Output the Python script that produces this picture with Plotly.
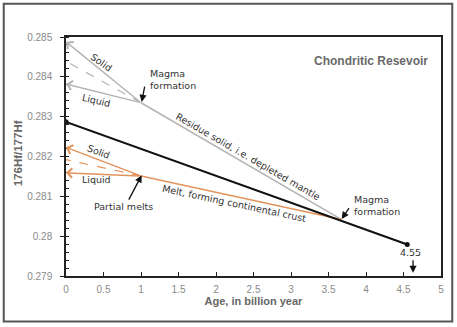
import plotly.graph_objects as go

# ---- data ----
age_chur = [0.0, 4.55]
hf_chur = [0.28287, 0.27979]

age_split = [3.67, 1.0]          # magma formation -> partial melting
hf_residue = [0.28042, 0.28335]  # residue solid (depleted mantle)
hf_melt = [0.28042, 0.28151]     # melt (continental crust)

age_now = 0.0
res_solid, res_mix, res_liquid = 0.28488, 0.28439, 0.28382
melt_solid, melt_mix, melt_liquid = 0.28223, 0.28192, 0.28159

x_ticks = [0, 0.5, 1, 1.5, 2, 2.5, 3, 3.5, 4, 4.5, 5]
x_labels = ["0", "0.5", "1", "1.5", "2", "2.5", "3", "3.5", "4", "4.5", "5"]
y_ticks = [0.279, 0.280, 0.281, 0.282, 0.283, 0.284, 0.285]
y_labels = ["0.279", "0.28", "0.281", "0.282", "0.283", "0.284", "0.285"]

GRAY = "#b4b4b4"
ORANGE = "#e3935c"
TXT = "#333333"
ANN_FONT = dict(family="DejaVu Sans", size=9.5, color=TXT)

fig = go.Figure()

# residue (gray)
fig.add_trace(go.Scatter(x=age_split, y=hf_residue, mode="lines",
                         line=dict(color=GRAY, width=1.5), hoverinfo="skip"))
fig.add_trace(go.Scatter(x=[age_split[1], age_now], y=[hf_residue[1], res_mix], mode="lines",
                         line=dict(color=GRAY, width=1.2, dash="dash"), hoverinfo="skip"))
# melt (orange)
fig.add_trace(go.Scatter(x=age_split, y=hf_melt, mode="lines",
                         line=dict(color=ORANGE, width=1.5), hoverinfo="skip"))
fig.add_trace(go.Scatter(x=[age_split[1], age_now], y=[hf_melt[1], melt_mix], mode="lines",
                         line=dict(color=ORANGE, width=1.2, dash="dash"), hoverinfo="skip"))
# CHUR (black)
fig.add_trace(go.Scatter(x=age_chur, y=hf_chur, mode="lines+markers",
                         line=dict(color="#111111", width=2),
                         marker=dict(color="#111111", size=5), hoverinfo="skip"))

ann = []
# branch arrows pointing to present day
for y_end, y_start, col in [(res_solid, hf_residue[1], GRAY), (res_liquid, hf_residue[1], GRAY),
                            (melt_solid, hf_melt[1], ORANGE), (melt_liquid, hf_melt[1], ORANGE)]:
    ann.append(dict(x=age_now, y=y_end, ax=age_split[1], ay=y_start, xref="x", yref="y",
                    axref="x", ayref="y", text="", showarrow=True, arrowhead=4,
                    arrowsize=1.3, arrowwidth=1.4, arrowcolor=col, standoff=0))

# black pointer arrows (tip, tail)
for (tx, ty, sx, sy) in [(1.009, 0.28337, 1.053, 0.28379),
                         (1.009, 0.28153, 0.827, 0.28088),
                         (3.676, 0.28043, 3.787, 0.28074),
                         (4.627, 0.27908, 4.627, 0.27943)]:
    ann.append(dict(x=tx, y=ty, ax=sx, ay=sy, xref="x", yref="y", axref="x", ayref="y",
                    text="", showarrow=True, arrowhead=2, arrowsize=1.1, arrowwidth=1.3,
                    arrowcolor="#111111", standoff=0))

def lab(text, x, y, angle=0, xanchor="center", font=ANN_FONT, align="center"):
    ann.append(dict(x=x, y=y, xref="x", yref="y", text=text, showarrow=False,
                    textangle=angle, xanchor=xanchor, yanchor="middle", font=font, align=align))

lab("Solid", 0.476, 0.28437, 35)
lab("Liquid", 0.409, 0.28341, 13)
lab("Magma<br>formation", 1.093, 0.28394, 0, "left", align="left")
lab("Residue solid, i.e. depleted mantle", 2.427, 0.28201, 30)
lab("Solid", 0.431, 0.28212, 21)
lab("Liquid", 0.409, 0.28143, 0)
lab("Partial melts", 0.764, 0.28074, 0)
lab("Melt, forming continental crust", 2.253, 0.28083, 12)
lab("Magma<br>formation", 3.809, 0.28078, 0, "left", align="left")
lab("4.55", 4.596, 0.27960, 0)
lab("Chondritic Resevoir", 4.067, 0.28439, 0,
    font=dict(family="Liberation Sans", size=12, color="#6a6a6a", weight="bold"))

# y-axis title
ann.append(dict(x=-0.127, y=0.515, xref="paper", yref="paper", text="176Hf/177Hf",
                showarrow=False, textangle=-90, xanchor="center", yanchor="middle",
                font=dict(family="Liberation Sans", size=11.5, color="#666666", weight="bold")))

fig.update_layout(
    width=457, height=327,
    margin=dict(l=66, r=16, t=37, b=51),
    paper_bgcolor="white", plot_bgcolor="white",
    showlegend=False,
    annotations=ann,
    shapes=[dict(type="rect", xref="paper", yref="paper",
                 x0=-0.166, x1=1.030, y0=-0.190, y1=1.139,
                 line=dict(color="#555555", width=2), layer="above")],
    xaxis=dict(range=[0, 5], tickvals=x_ticks, ticktext=x_labels,
               ticks="inside", ticklen=4, tickcolor="#222",
               showline=True, linecolor="#222", linewidth=1.5, mirror=True,
               showgrid=False, zeroline=False, ticklabelstandoff=3,
               tickfont=dict(family="Liberation Sans", size=10, color="#8a8a8a"),
               title=dict(text="Age, in billion year", standoff=4,
                          font=dict(family="Liberation Sans", size=11, color="#666666",
                                    weight="bold"))),
    yaxis=dict(range=[0.279, 0.285], tickvals=y_ticks, ticktext=y_labels,
               ticks="outside", ticklen=4, tickcolor="#222",
               minor=dict(dtick=0.0002, ticks="inside", ticklen=3, tickcolor="#222"),
               showline=True, linecolor="#222", linewidth=1.5, mirror=True,
               showgrid=False, zeroline=False, ticklabelstandoff=6,
               tickfont=dict(family="Liberation Sans", size=10, color="#8a8a8a")),
)

fig.write_html("out.html")
